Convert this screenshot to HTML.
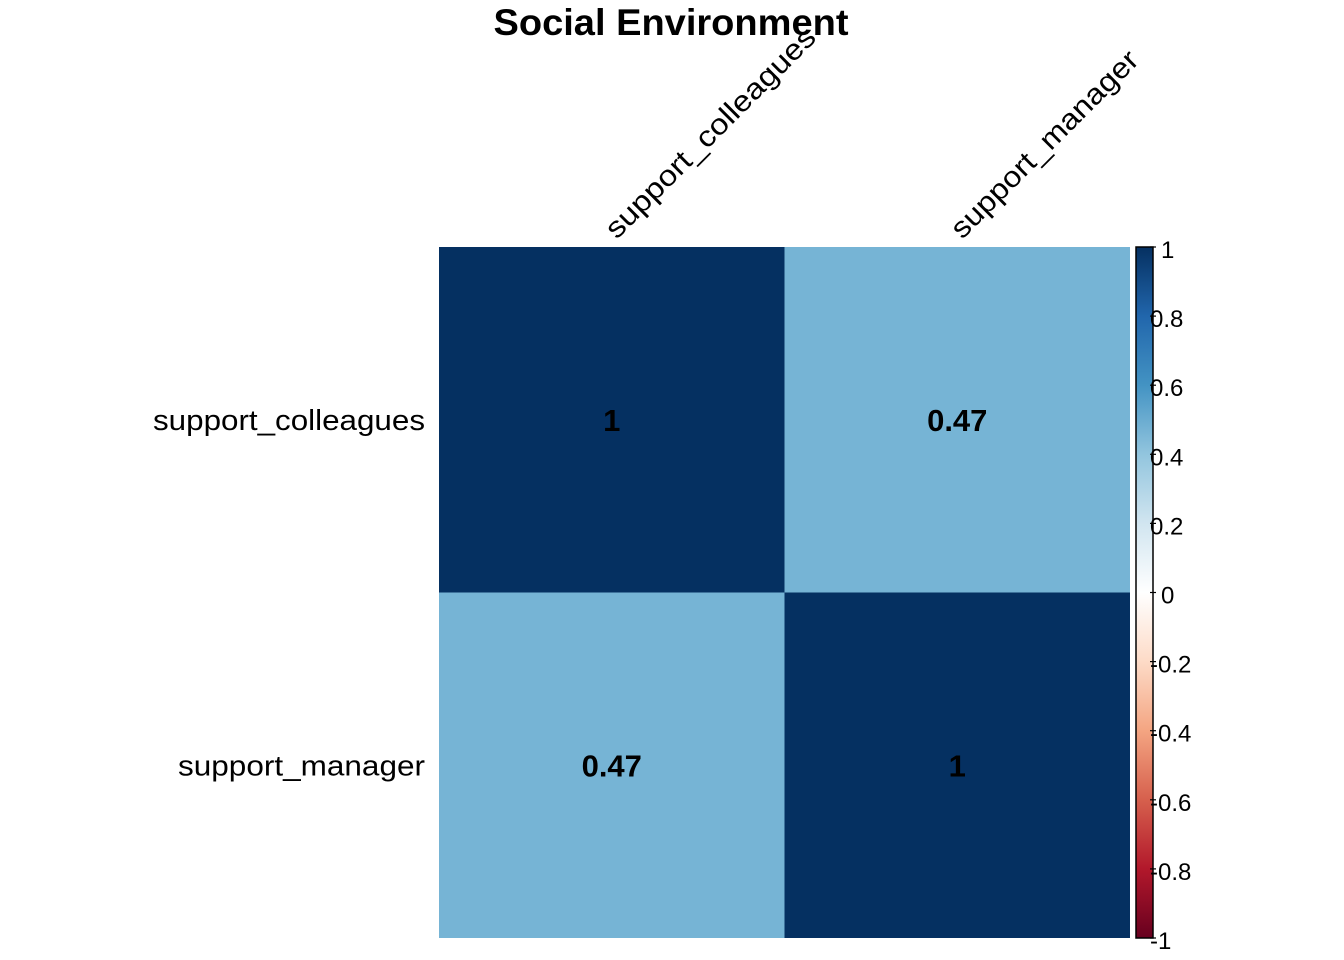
<!DOCTYPE html>
<html><head><meta charset="utf-8"><style>
html,body{margin:0;padding:0;background:#fff;}
svg{display:block;font-family:"Liberation Sans",Arial,sans-serif;}
</style></head><body>
<svg id="chart" width="1344" height="960">
<text x="671" y="35" text-anchor="middle" font-size="37" font-weight="bold" textLength="355" lengthAdjust="spacingAndGlyphs">Social Environment</text>
<g id="cells"></g>
<g id="legend"></g>
</svg>
<script>
const variables = ["support_colleagues", "support_manager"];
const corrValues = [[1, 0.47], [0.47, 1]];
const legendTicks = [1, 0.8, 0.6, 0.4, 0.2, 0, -0.2, -0.4, -0.6, -0.8, -1];
const legendTickLabels = ["1", "0.8", "0.6", "0.4", "0.2", "0", "-0.2", "-0.4", "-0.6", "-0.8", "-1"];

const NS = "http://www.w3.org/2000/svg";
const svg = document.getElementById("chart");
const cellsG = document.getElementById("cells");
const legG = document.getElementById("legend");
const x0 = 439, y0 = 247, size = 691;
const n = variables.length, cw = size / n;
const rowLen = {"support_colleagues":272, "support_manager":247};
const colLen = {"support_colleagues":284, "support_manager":252};
const stops = [[-1,"#67001F"],[-0.8,"#B2182B"],[-0.6,"#D6604D"],[-0.4,"#F4A582"],[-0.2,"#FDDBC7"],[0,"#FFFFFF"],[0.2,"#D1E5F0"],[0.4,"#92C5DE"],[0.6,"#4393C3"],[0.8,"#2166AC"],[1,"#053061"]];
function hex(c){return [1,3,5].map(i=>parseInt(c.substr(i,2),16));}
function color(v){
  for(let i=0;i<stops.length-1;i++){
    if(v<=stops[i+1][0]){
      const t=(v-stops[i][0])/(stops[i+1][0]-stops[i][0]);
      const a=hex(stops[i][1]),b=hex(stops[i+1][1]);
      return "rgb("+a.map((c,k)=>Math.round(c+(b[k]-c)*t)).join(",")+")";
    }
  }
  return stops[stops.length-1][1];
}
function mk(tag, attrs){const e=document.createElementNS(NS,tag);for(const k in attrs)e.setAttribute(k,attrs[k]);return e;}
const xPos = j => x0 + j*cw;
const yPos = i => y0 + i*cw;

for(let i=0;i<n;i++){
  for(let j=0;j<n;j++){
    const v = corrValues[i][j];
    const r = mk("rect",{x:xPos(j),y:yPos(i),width:cw,height:cw,fill:color(v)});
    
    
    cellsG.appendChild(r);
    const t = mk("text",{x:xPos(j)+cw/2,y:yPos(i)+cw/2+11,"text-anchor":"middle","font-size":"31","font-weight":"bold",fill:"#000"});
    t.textContent = String(v);
    
    
    cellsG.appendChild(t);
  }
  const rl = mk("text",{x:425,y:yPos(i)+cw/2+10,"text-anchor":"end","font-size":"29",textLength:rowLen[variables[i]],lengthAdjust:"spacingAndGlyphs"});
  rl.textContent = variables[i];
  
  
  cellsG.appendChild(rl);
  const cx = xPos(i)+cw/2+5, cy = 240;
  const cl = mk("text",{x:cx,y:cy,"font-size":"29",textLength:colLen[variables[i]],lengthAdjust:"spacingAndGlyphs",transform:"rotate(-45 "+cx+" "+cy+")"});
  cl.textContent = variables[i];
  
  
  cellsG.appendChild(cl);
}

// legend colour bar
const lx = 1136, lw = 17, ly0 = 247, ly1 = 938;
const lyPos = v => ly1 - (v+1)/2*(ly1-ly0);
const defs = mk("defs",{});
const grad = mk("linearGradient",{id:"g",x1:"0",y1:"1",x2:"0",y2:"0"});
stops.forEach(s=>{grad.appendChild(mk("stop",{offset:((s[0]+1)/2*100)+"%","stop-color":s[1]}));});
defs.appendChild(grad);svg.appendChild(defs);
const bar = mk("rect",{x:lx,y:ly0,width:lw,height:ly1-ly0,fill:"url(#g)",stroke:"#000","stroke-width":"1.5"});


legG.appendChild(bar);
legendTicks.forEach((v,k)=>{
  const y = lyPos(v);
  const tk = mk("line",{x1:lx+lw-3,x2:lx+lw+3,y1:y,y2:y,stroke:"#000","stroke-width":"1.2"});
  
  
  legG.appendChild(tk);
  const lab = legendTickLabels[k];
  const tx = mk("text",{x:(v>=0 && lab.length===1)?1161:1150,y:y+11,"font-size":"24"});
  tx.textContent = lab;
  
  
  legG.appendChild(tx);
});
</script>
</body></html>
